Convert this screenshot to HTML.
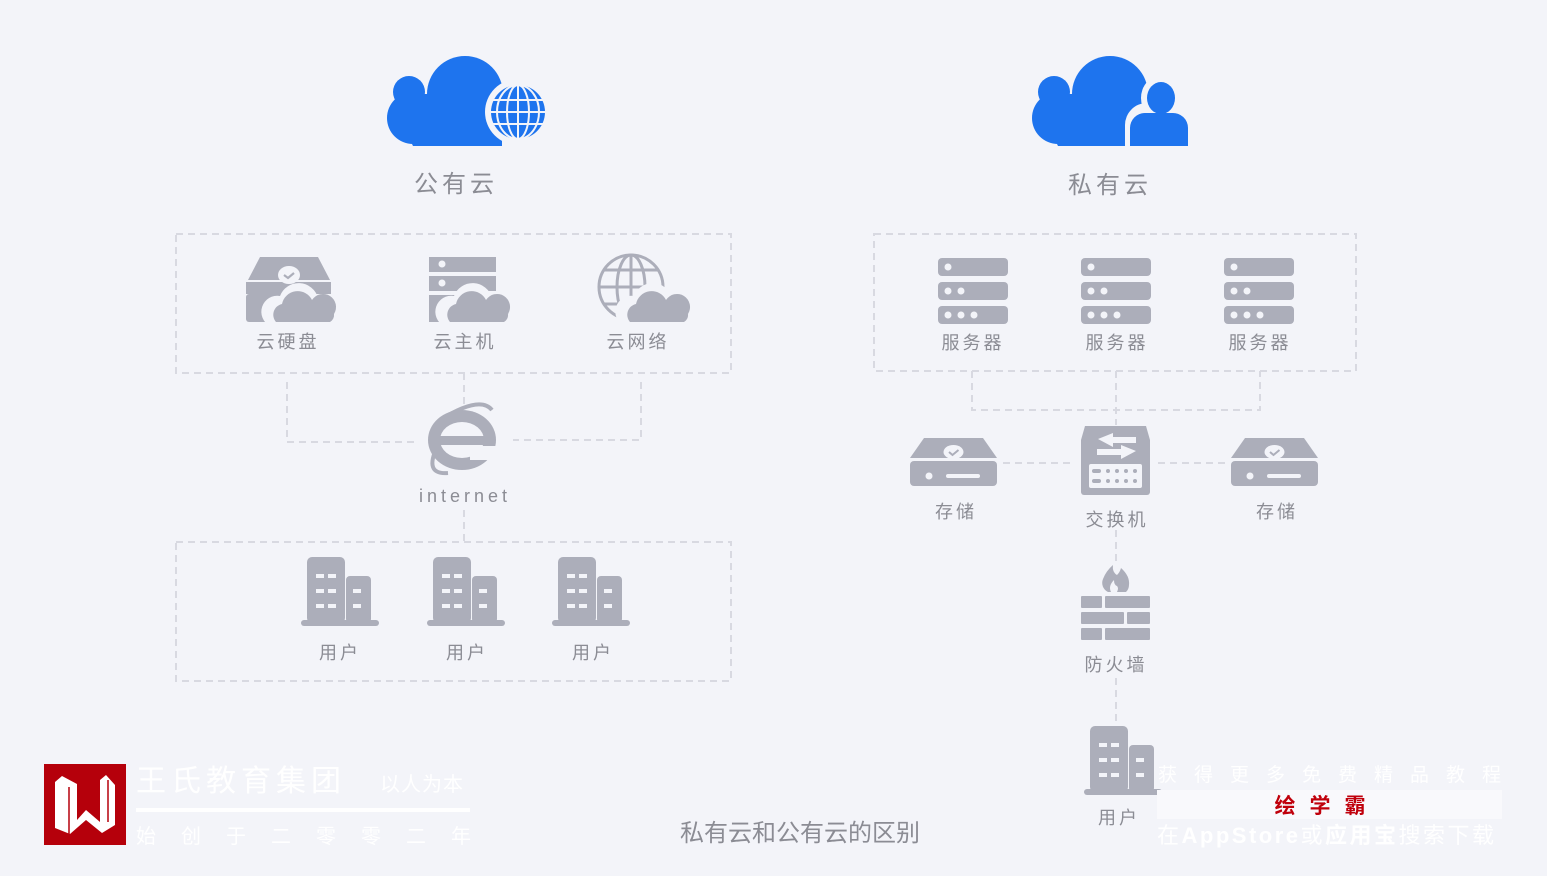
<!DOCTYPE html>
<html><head><meta charset="utf-8"><style>
html,body{margin:0;padding:0;background:#f3f4f9;}
svg{display:block;}
text{font-family:"Liberation Sans","Noto Sans CJK SC",sans-serif;}
</style></head><body>
<svg width="1547" height="876" viewBox="0 0 1547 876" xmlns="http://www.w3.org/2000/svg">
<rect width="1547" height="876" fill="#f3f4f9"/>
<defs>
<g id="srv" fill="#acaeba">
<rect x="0" y="0" width="70" height="18" rx="4"/><rect x="0" y="24" width="70" height="18" rx="4"/><rect x="0" y="48" width="70" height="18" rx="4"/>
<g fill="#f3f4f9"><circle cx="10" cy="9" r="3.5"/><circle cx="10" cy="33" r="3.5"/><circle cx="23" cy="33" r="3.5"/><circle cx="10" cy="57" r="3.5"/><circle cx="23" cy="57" r="3.5"/><circle cx="36" cy="57" r="3.5"/></g></g>
<g id="stor" fill="#acaeba"><path d="M14 0 H73 L87 20 H0 Z"/><rect x="0" y="23" width="87" height="25" rx="4"/>
<ellipse cx="43.5" cy="14" rx="10" ry="7" fill="#f3f4f9"/><path d="M39 14 l3.5 3 l6 -5" stroke="#acaeba" stroke-width="2" fill="none"/>
<circle cx="19" cy="38" r="3.5" fill="#f3f4f9"/><rect x="36" y="36" width="34" height="4" rx="2" fill="#f3f4f9"/></g>
<g id="bld" fill="#acaeba"><rect x="6" y="0" width="38" height="66" rx="5"/><rect x="45" y="19" width="25" height="47" rx="4"/><rect x="0" y="63" width="78" height="6" rx="3"/>
<g fill="#f3f4f9"><rect x="15" y="17" width="8" height="4"/><rect x="27" y="17" width="8" height="4"/><rect x="15" y="32" width="8" height="4"/><rect x="27" y="32" width="8" height="4"/><rect x="15" y="47" width="8" height="4"/><rect x="27" y="47" width="8" height="4"/><rect x="52" y="32" width="8" height="4"/><rect x="52" y="47" width="8" height="4"/></g></g>
<g id="bigcloud" fill="#1e74ee">
<circle cx="78" cy="40" r="38"/><circle cx="22" cy="38" r="16"/><circle cx="26" cy="64" r="26"/>
<path d="M10 60 H115 V92 H26 Z"/><rect x="20" y="40" width="60" height="30"/>
</g>
</defs>

<!-- clouds -->
<use href="#bigcloud" x="387" y="54"/>
<circle cx="518" cy="112" r="33" fill="#f3f4f9"/>
<circle cx="518" cy="112" r="27" fill="#1e74ee"/>
<g stroke="#f3f4f9" stroke-width="2" fill="none"><line x1="491" y1="100" x2="545" y2="100"/><line x1="491" y1="112" x2="545" y2="112"/><line x1="491" y1="124" x2="545" y2="124"/><line x1="518" y1="85" x2="518" y2="139"/><ellipse cx="518" cy="112" rx="11" ry="27"/><ellipse cx="518" cy="112" rx="21" ry="27"/></g>
<use href="#bigcloud" x="1032" y="54"/>
<ellipse cx="1160" cy="98" rx="19" ry="22" fill="#f3f4f9"/>
<path d="M1125 148 V125 a22 22 0 0 1 22 -22 h28 a22 22 0 0 1 18 22 V148 Z" fill="#f3f4f9"/>
<ellipse cx="1161" cy="98" rx="14" ry="16" fill="#1e74ee"/>
<path d="M1130 146 V128 a15 15 0 0 1 15 -15 h27 a15 15 0 0 1 16 15 V146 Z" fill="#1e74ee"/>
<text x="456" y="192" font-size="24" fill="#8b8c94" text-anchor="middle" letter-spacing="4">公有云</text>
<text x="1110" y="193" font-size="24" fill="#8b8c94" text-anchor="middle" letter-spacing="4">私有云</text>

<!-- dashed -->
<g fill="none" stroke="#d8d9e1" stroke-width="2" stroke-dasharray="7 5">
<rect x="176" y="234" width="555" height="139"/>
<rect x="176" y="542" width="555" height="139"/>
<rect x="874" y="234" width="482" height="137"/>
<path d="M287 382 V442 H417"/><path d="M641 382 V440 H513"/><path d="M464 373 V408"/><path d="M464 510 V542"/>
<path d="M972 371 V410 H1260 V371"/><path d="M1116 371 V425"/>
<path d="M1003 463 H1073"/><path d="M1158 463 H1226"/>
<path d="M1116 530 V565"/><path d="M1116 678 V725"/>
</g>

<!-- left icons -->
<g fill="#acaeba">
<path d="M260 257 H318 L330 280 H248 Z"/><rect x="246" y="294" width="45" height="28" rx="3"/><rect x="246" y="282" width="85" height="12"/>
<ellipse cx="289" cy="275" rx="11" ry="9" fill="#f3f4f9"/><path d="M284 275 l4 3 l6 -5" stroke="#acaeba" stroke-width="2.2" fill="none"/>
<circle cx="265" cy="310" r="3" fill="#f3f4f9"/>
</g>
<path d="M270 326 a16 16 0 0 1 10 -30 a20 20 0 0 1 38 2 a14 14 0 0 1 20 18 Z" fill="#f3f4f9"/>
<path d="M276 322 a11 11 0 0 1 6 -18 a16 16 0 0 1 30 -4 a12 12 0 0 1 22 14 a8 8 0 0 1 -4 8 Z" fill="#acaeba"/>

<g fill="#acaeba"><rect x="429" y="257" width="67" height="15"/><rect x="429" y="276" width="67" height="15"/><rect x="429" y="295" width="40" height="27"/></g>
<g fill="#f3f4f9"><circle cx="442" cy="264" r="3.5"/><circle cx="442" cy="283" r="3.5"/></g>
<path d="M444 326 a16 16 0 0 1 10 -30 a20 20 0 0 1 38 2 a14 14 0 0 1 20 18 Z" fill="#f3f4f9"/>
<path d="M450 322 a11 11 0 0 1 6 -18 a16 16 0 0 1 30 -4 a12 12 0 0 1 22 14 a8 8 0 0 1 -4 8 Z" fill="#acaeba"/>

<g fill="none" stroke="#acaeba" stroke-width="3"><circle cx="631" cy="287" r="32"/><ellipse cx="631" cy="287" rx="14" ry="32"/><line x1="631" y1="255" x2="631" y2="319"/><line x1="599" y1="287" x2="663" y2="287"/><path d="M604 270 H658 M604 304 H658"/></g>
<path d="M624 326 a16 16 0 0 1 10 -30 a20 20 0 0 1 38 2 a14 14 0 0 1 20 18 Z" fill="#f3f4f9"/>
<path d="M630 322 a11 11 0 0 1 6 -18 a16 16 0 0 1 30 -4 a12 12 0 0 1 22 14 a8 8 0 0 1 -4 8 Z" fill="#acaeba"/>

<g font-size="18" fill="#8b8c94" text-anchor="middle" letter-spacing="3">
<text x="288" y="348">云硬盘</text><text x="465" y="348">云主机</text><text x="638" y="348">云网络</text>
</g>

<!-- IE -->
<g>
<ellipse cx="462" cy="440" rx="34" ry="30" fill="#acaeba"/>
<ellipse cx="462" cy="440" rx="22" ry="18" fill="#f3f4f9"/>
<rect x="440" y="436" width="46" height="9" fill="#acaeba"/>
<rect x="470" y="446" width="30" height="14" fill="#f3f4f9"/>
<path d="M440 420 q40 -25 52 -10" stroke="#acaeba" stroke-width="4" fill="none"/>
<path d="M438 445 q-15 30 10 28" stroke="#acaeba" stroke-width="4" fill="none"/>
</g>
<text x="465" y="502" font-size="18" fill="#8b8c94" text-anchor="middle" letter-spacing="4">internet</text>

<use href="#bld" x="301" y="557"/><use href="#bld" x="427" y="557"/><use href="#bld" x="552" y="557"/>
<g font-size="18" fill="#8b8c94" text-anchor="middle" letter-spacing="3">
<text x="340" y="659">用户</text><text x="467" y="659">用户</text><text x="593" y="659">用户</text>
</g>

<!-- right -->
<use href="#srv" x="938" y="258"/><use href="#srv" x="1081" y="258"/><use href="#srv" x="1224" y="258"/>
<g font-size="18" fill="#8b8c94" text-anchor="middle" letter-spacing="3">
<text x="973" y="349">服务器</text><text x="1117" y="349">服务器</text><text x="1260" y="349">服务器</text>
<text x="956" y="518">存储</text><text x="1117" y="526">交换机</text><text x="1277" y="518">存储</text>
<text x="1116" y="671">防火墙</text><text x="1119" y="824">用户</text>
</g>
<use href="#stor" x="910" y="438"/><use href="#stor" x="1231" y="438"/>
<path d="M1085 426 H1146 L1150 440 V492 a3 3 0 0 1 -3 3 H1084 a3 3 0 0 1 -3 -3 V440 Z" fill="#acaeba"/>
<g fill="#f3f4f9"><path d="M1098 439 L1113 433 V437 H1136 V443 H1113 V447 Z"/><path d="M1136 451 L1121 445 V449 H1097 V455 H1121 V459 Z"/>
<rect x="1089" y="464" width="53" height="24" rx="2"/></g>
<g fill="#acaeba"><rect x="1092" y="469" width="9" height="4" rx="2"/><rect x="1092" y="479" width="9" height="4" rx="2"/>
<circle cx="1108" cy="471" r="2"/><circle cx="1117" cy="471" r="2"/><circle cx="1126" cy="471" r="2"/><circle cx="1135" cy="471" r="2"/>
<circle cx="1108" cy="481" r="2"/><circle cx="1117" cy="481" r="2"/><circle cx="1126" cy="481" r="2"/><circle cx="1135" cy="481" r="2"/></g>

<g fill="#acaeba">
<path d="M1108 592 a10 10 0 0 1 -5 -13 q3 -8 10 -14 q-1 7 4 10 q3 -3 4 -7 q9 8 8 17 a10 10 0 0 1 -3 7 Z"/>
<rect x="1081" y="596" width="21" height="12" rx="1"/><rect x="1105" y="596" width="45" height="12" rx="1"/>
<rect x="1081" y="612" width="43" height="12" rx="1"/><rect x="1127" y="612" width="23" height="12" rx="1"/>
<rect x="1081" y="628" width="21" height="12" rx="1"/><rect x="1105" y="628" width="45" height="12" rx="1"/>
</g>
<path d="M1111 592 q-3 -6 3 -12 q0 5 3 6 q2 2 0 6 Z" fill="#f3f4f9"/>
<use href="#bld" x="1084" y="726"/>

<text x="800" y="841" font-size="24" fill="#8b8c94" text-anchor="middle">私有云和公有云的区别</text>

<!-- logo -->
<rect x="44" y="764" width="82" height="81" fill="#b5000b"/>
<path d="M55 782 L62 776 L77 784 V820 L86 810 L100 822 V780 L106 775 L115 785 V825 L102 833 L86 820 L70 834 L55 828 Z" fill="#fff"/>
<path d="M69 787 V834 M108 780 V822" stroke="#b5000b" stroke-width="1.5"/>
<g fill="#fff">
<text x="136" y="791" font-size="30" letter-spacing="5">王氏教育集团</text>
<text x="380" y="791" font-size="20" letter-spacing="1">以人为本</text>
<rect x="136" y="808" width="334" height="4"/>
<text x="136" y="843" font-size="20" letter-spacing="25">始创于二零零二年</text>
</g>
<!-- watermark -->
<text x="1158" y="781" font-size="19" fill="#fff" letter-spacing="17">获得更多免费精品教程</text>
<rect x="1157" y="790" width="345" height="29" fill="#f9f9fc"/>
<text x="1327" y="813" font-size="21" fill="#c0000b" font-weight="bold" text-anchor="middle" letter-spacing="14">绘学霸</text>
<text x="1157" y="843" font-size="22" fill="#fff" letter-spacing="2.5">在<tspan font-weight="bold">AppStore</tspan>或<tspan font-weight="bold">应用宝</tspan>搜索下载</text>
</svg>
</body></html>
